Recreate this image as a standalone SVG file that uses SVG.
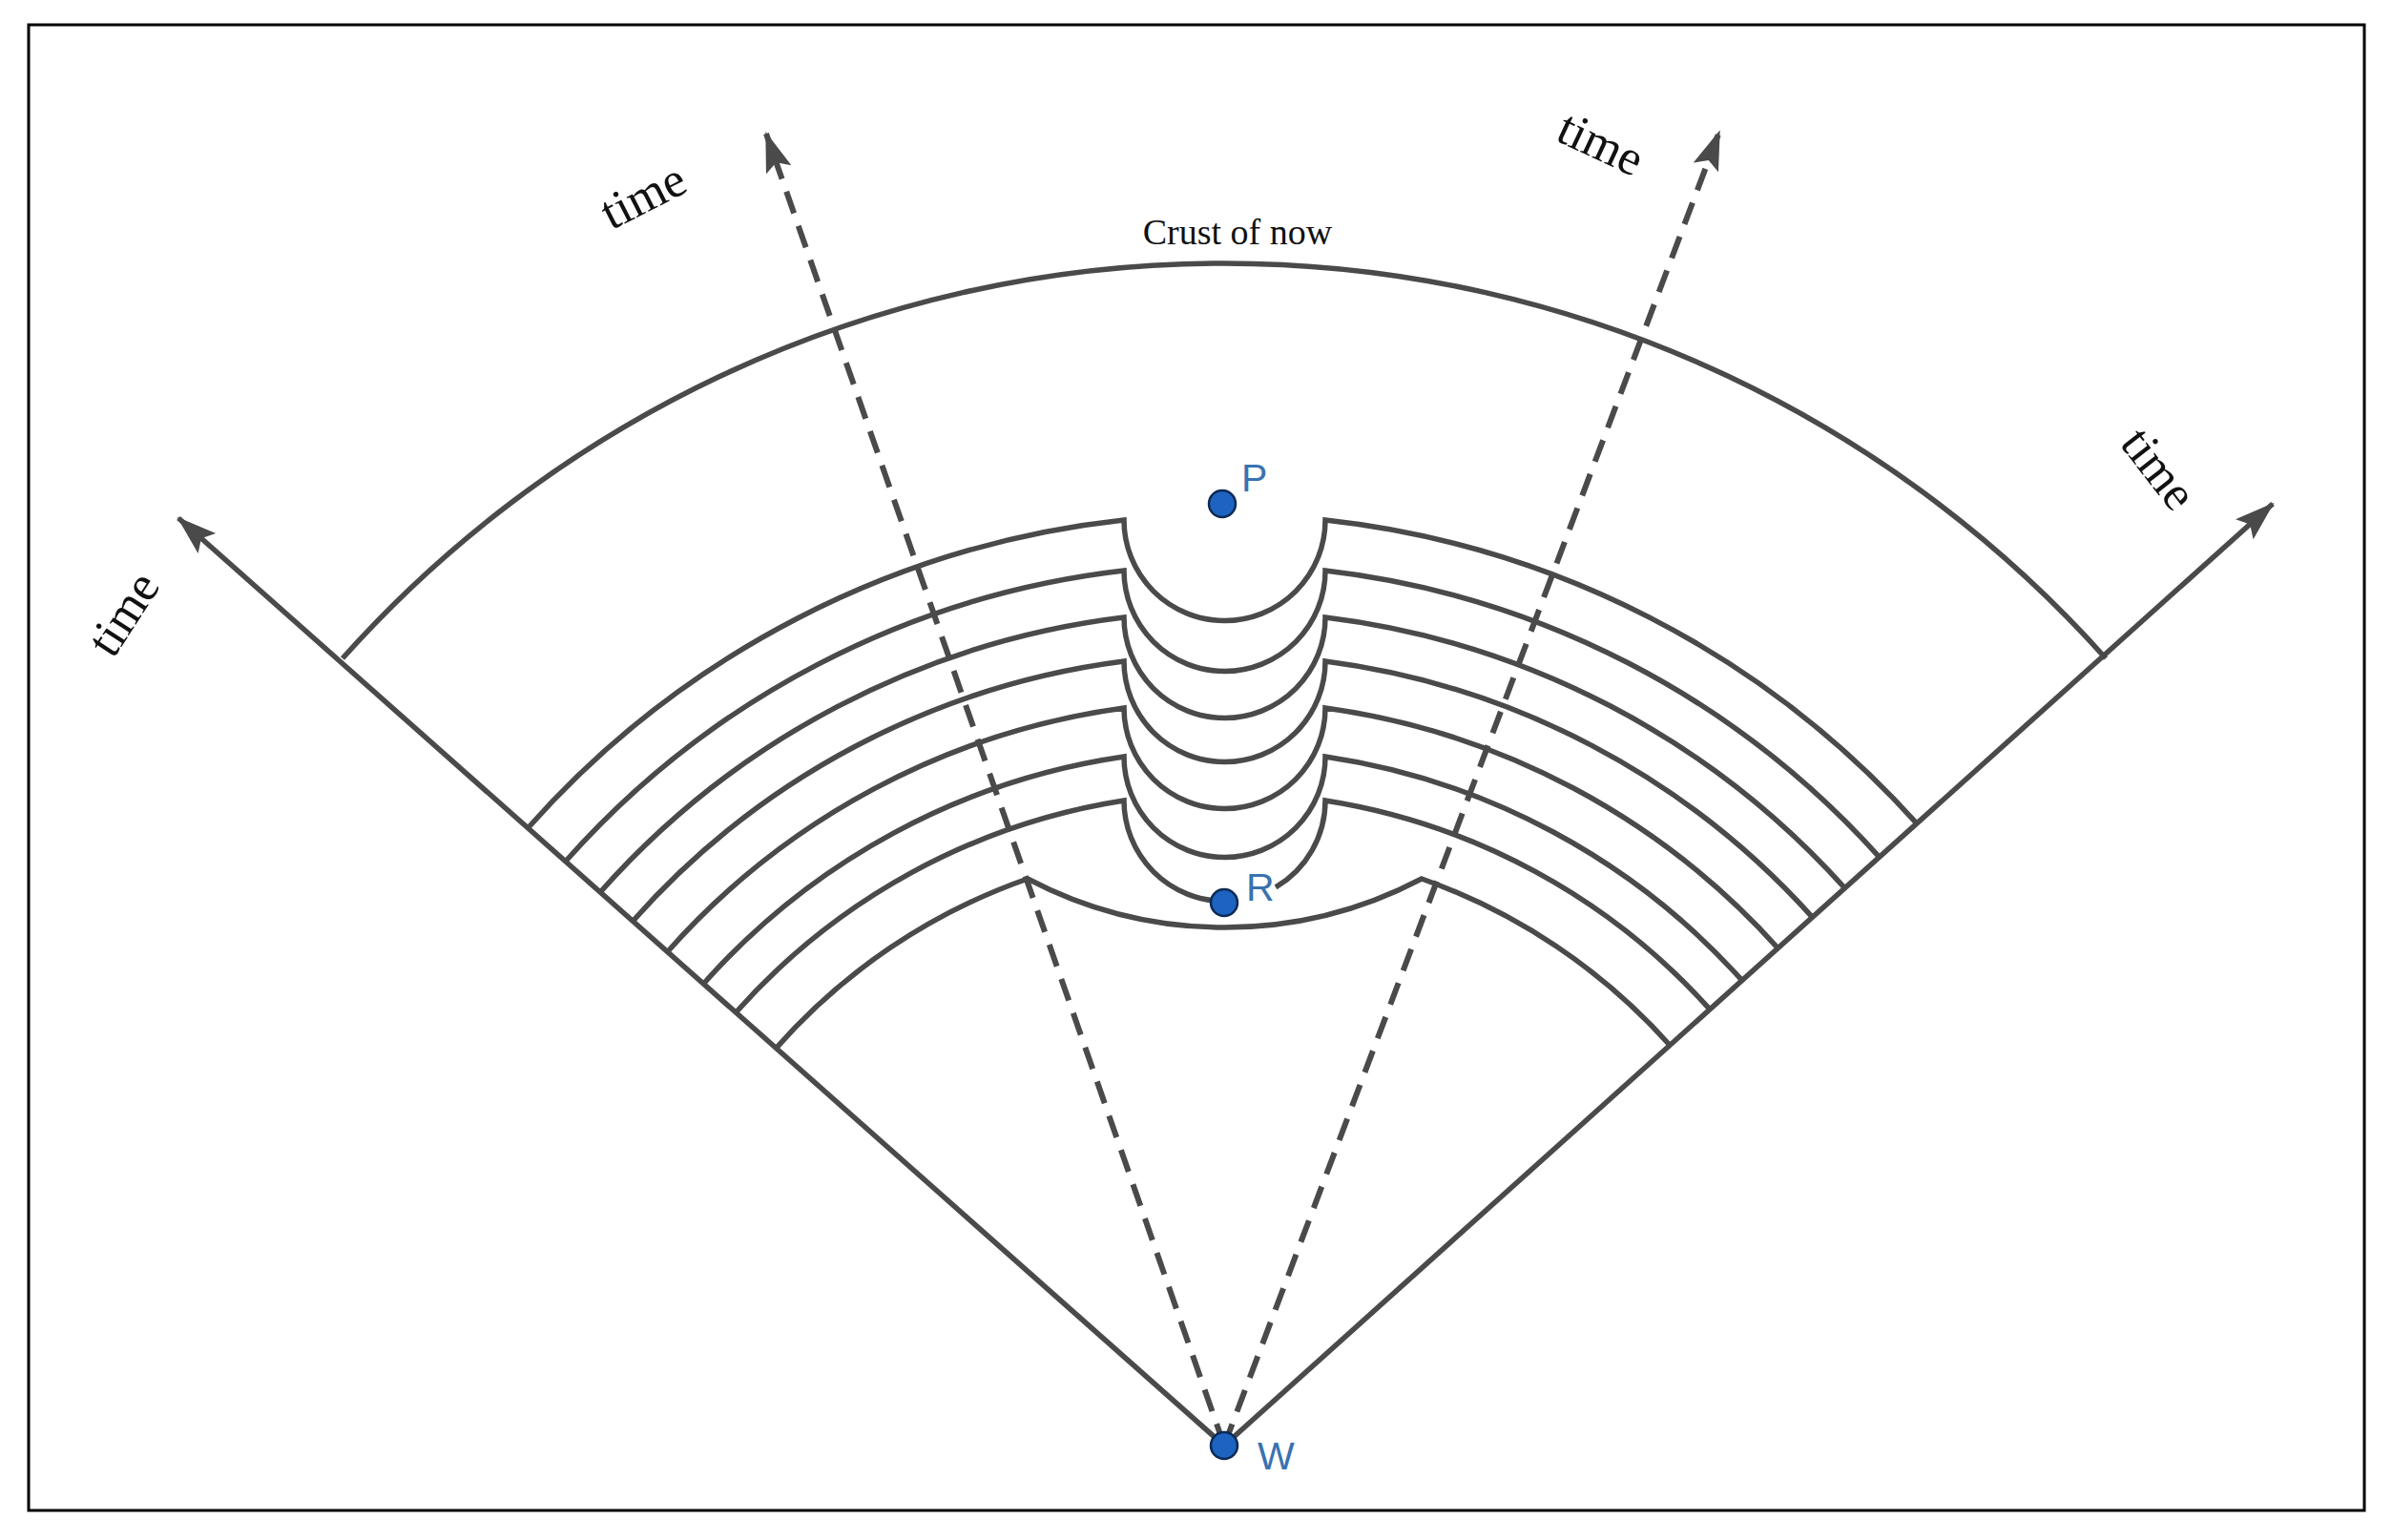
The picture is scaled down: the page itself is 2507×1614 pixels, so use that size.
<svg xmlns="http://www.w3.org/2000/svg" width="2507" height="1614" viewBox="0 0 2507 1614">
<style>
.ln{fill:none;stroke:#4a4a4a;stroke-width:5.5}
.ds{fill:none;stroke:#4a4a4a;stroke-width:6;stroke-dasharray:24 14}
.tm{font-family:"Liberation Serif",serif;font-size:52px;fill:#111;text-anchor:middle;dominant-baseline:central}
.pt{fill:#1e63c0;stroke:#0d2a55;stroke-width:2.5}
.lb{font-family:"Liberation Sans",sans-serif;font-size:41px;fill:#3a72b0}
</style>
<defs>
<marker id="ah" markerUnits="userSpaceOnUse" markerWidth="44" markerHeight="30" refX="40" refY="14" orient="auto">
<path d="M0,0 L42,14 L0,28 L8,14 z" fill="#4a4a4a"/>
</marker>
</defs>
<rect x="30" y="26" width="2448" height="1557" fill="#fff" stroke="#000" stroke-width="3"/>
<g id="connectors">
<line class="ln" x1="1283" y1="1515" x2="187" y2="543" marker-end="url(#ah)"/>
<line class="ln" x1="1283" y1="1515" x2="2382" y2="528" marker-end="url(#ah)"/>
<line class="ds" x1="1283" y1="1515" x2="803" y2="140" marker-end="url(#ah)"/>
<line class="ds" x1="1283" y1="1515" x2="1802" y2="138" marker-end="url(#ah)"/>
</g>
<g id="crust">
<path class="ln" d="M359,690 A1238,1238 0 0 1 2207,690"/>
<text x="1297" y="243" font-family="Liberation Serif, serif" font-size="38" fill="#111" text-anchor="middle" dominant-baseline="central">Crust of now</text>
</g>
<g id="layers">
<path class="ln" d="M553.1,868 A975.8,975.8 0 0 1 1178,545 A105.5,105.5 0 0 0 1389,545 A975.8,975.8 0 0 1 2009,863.2"/>
<path class="ln" d="M592.5,903 A923.1,923.1 0 0 1 1178,598 A105.5,105.5 0 0 0 1389,598 A923.1,923.1 0 0 1 1969.8,898.4"/>
<path class="ln" d="M628.9,935.3 A874.4,874.4 0 0 1 1178,647 A105.5,105.5 0 0 0 1389,647 A874.4,874.4 0 0 1 1933.6,930.9"/>
<path class="ln" d="M663.1,965.5 A828.8,828.8 0 0 1 1178,693 A105.5,105.5 0 0 0 1389,693 A828.8,828.8 0 0 1 1899.6,961.4"/>
<path class="ln" d="M699.4,997.7 A780.2,780.2 0 0 1 1178,742 A105.5,105.5 0 0 0 1389,742 A780.2,780.2 0 0 1 1863.5,993.8"/>
<path class="ln" d="M737.2,1031.2 A729.7,729.7 0 0 1 1178,793 A105.5,105.5 0 0 0 1389,793 A729.7,729.7 0 0 1 1825.9,1027.6"/>
<path class="ln" d="M771.1,1061.3 A684.3,684.3 0 0 1 1178,839 A105.5,105.5 0 0 0 1283.5,944.5"/>
<path class="ln" d="M1337,929.9 A105.5,105.5 0 0 0 1389,839 A684.3,684.3 0 0 1 1792.1,1057.9"/>
<path class="ln" d="M813.3,1098.6 A628,628 0 0 1 1077,921 A443.6,443.6 0 0 0 1490,921 A628,628 0 0 1 1750.2,1095.5"/>
</g>
<g id="labels">
<text class="tm" transform="translate(129,643) rotate(-57)">time</text>
<text class="tm" transform="translate(674,205) rotate(-27)">time</text>
<text class="tm" transform="translate(1678,150) rotate(25)">time</text>
<text class="tm" transform="translate(2263,491) rotate(52)">time</text>
</g>
<g id="P"><circle class="pt" cx="1281" cy="528" r="14"/><text class="lb" x="1301" y="515">P</text></g>
<g id="R"><circle class="pt" cx="1283" cy="946" r="14"/><text class="lb" x="1306" y="944">R</text></g>
<g id="W"><circle class="pt" cx="1283" cy="1515" r="14"/><text class="lb" x="1318" y="1540">W</text></g>
</svg>
